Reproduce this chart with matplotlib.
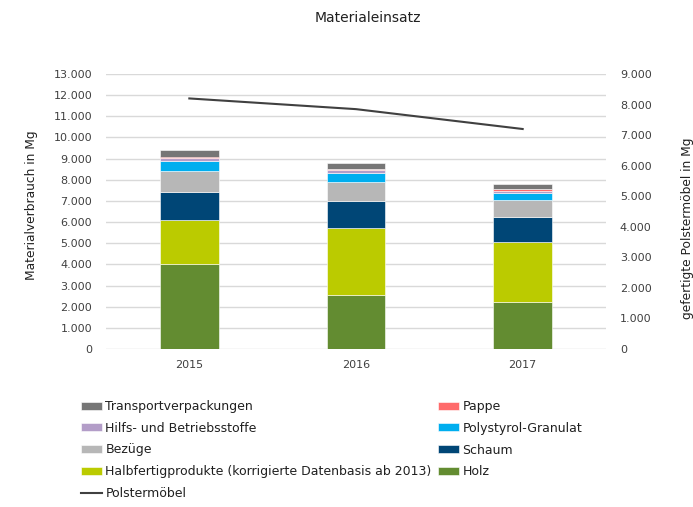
import matplotlib
matplotlib.use("Agg")
import matplotlib.pyplot as plt
from matplotlib.ticker import FuncFormatter
import numpy as np

years = ["2015", "2016", "2017"]
holz = [4000, 2540, 2210]
halbfertig = [2110, 3160, 2860]
schaum = [1330, 1300, 1170]
bezuege = [980, 880, 810]
polystyrol = [470, 440, 330]
hilfs = [130, 140, 110]
pappe = [80, 60, 80]
transport = [315, 285, 230]
polstermoebel = [8200, 7850, 7200]

series = [
    ("Holz", holz, "#638C31"),
    ("Halbfertigprodukte (korrigierte Datenbasis ab 2013)", halbfertig, "#BBCB00"),
    ("Schaum", schaum, "#004676"),
    ("Bezüge", bezuege, "#B7B7B7"),
    ("Polystyrol-Granulat", polystyrol, "#00AEEF"),
    ("Hilfs- und Betriebsstoffe", hilfs, "#B39DC8"),
    ("Pappe", pappe, "#FF6B6B"),
    ("Transportverpackungen", transport, "#767676"),
]

W, H = 693, 507
fig = plt.figure(figsize=(W / 100, H / 100), dpi=100)
ax = fig.add_axes([106 / W, 1 - 349 / H, 500 / W, 275 / H])
tc = "#404040"

x = np.arange(len(years))
bottom = np.zeros(len(years))
handles = {}
for name, vals, col in series:
    b = ax.bar(x, vals, 0.35, bottom=bottom, color=col, edgecolor="white",
               linewidth=0.4, zorder=3, label=name)
    handles[name] = b
    bottom += np.array(vals)

ax.set_xlim(-0.5, 2.5)
ax.set_ylim(0, 13000)
ax.set_yticks(np.arange(0, 13001, 1000))
fmt = FuncFormatter(lambda v, p: "0" if v == 0 else f"{int(v):,}".replace(",", "."))
ax.yaxis.set_major_formatter(fmt)
ax.grid(axis="y", color="#D9D9D9", linewidth=1, zorder=0)
for s in ax.spines.values():
    s.set_visible(False)
ax.tick_params(axis="both", length=0, labelsize=8, colors=tc)
ax.tick_params(axis="y", pad=10)
ax.tick_params(axis="x", pad=8)
ax.set_xticks(x)
ax.set_xticklabels(years)

ax2 = ax.twinx()
ax2.set_ylim(0, 9000)
ax2.set_yticks(np.arange(0, 9001, 1000))
ax2.yaxis.set_major_formatter(fmt)
for s in ax2.spines.values():
    s.set_visible(False)
ax2.tick_params(axis="y", length=0, labelsize=8, colors=tc, pad=10)
line, = ax2.plot(x, polstermoebel, color="#404040", linewidth=1.5, zorder=4,
                 label="Polstermöbel")

fig.text(368 / W, 1 - 18 / H, "Materialeinsatz", ha="center", va="center",
         fontsize=10, color="#202020")
fig.text(32 / W, 1 - 205 / H, "Materialverbrauch in Mg", rotation=90,
         ha="center", va="center", fontsize=8.8, color="#202020")
fig.text(687 / W, 1 - 228 / H, "gefertigte Polstermöbel in Mg", rotation=90,
         ha="center", va="center", fontsize=8.8, color="#202020")

order_col1 = ["Transportverpackungen", "Hilfs- und Betriebsstoffe", "Bezüge",
              "Halbfertigprodukte (korrigierte Datenbasis ab 2013)"]
order_col2 = ["Pappe", "Polystyrol-Granulat", "Schaum", "Holz"]
hl = [handles[n] for n in order_col1] + [line] + [handles[n] for n in order_col2]
labels = order_col1 + ["Polstermöbel"] + order_col2
leg = fig.legend(hl, labels, ncol=2, loc="upper left",
                 bbox_to_anchor=(81 / W, 1 - 400 / H), frameon=False,
                 fontsize=9, borderpad=0, borderaxespad=0, handlelength=1.7,
                 handleheight=0.6, handletextpad=0.25, labelspacing=0.7,
                 columnspacing=0.5)
for t in leg.get_texts():
    t.set_color("#202020")

fig.savefig("out.png", dpi=100)
